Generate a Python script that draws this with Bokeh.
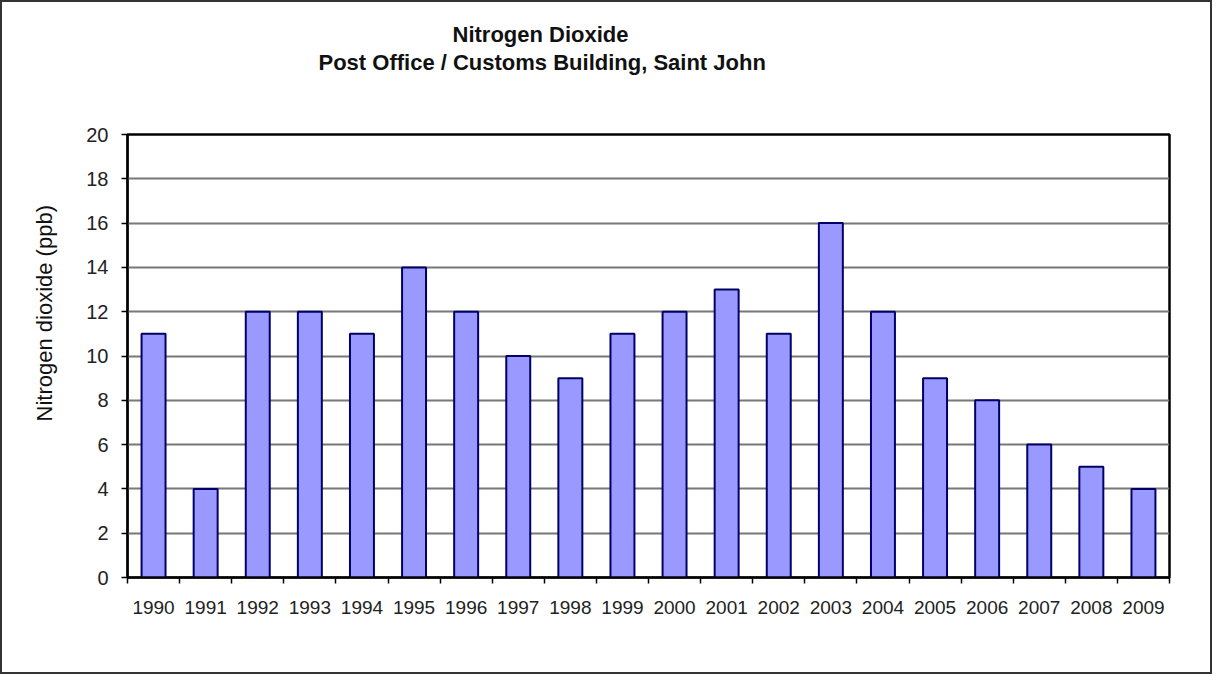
import numpy as np
from bokeh.plotting import figure
from bokeh.models import Title, FixedTicker, Range1d, ColumnDataSource
from bokeh.embed import file_html
from bokeh.resources import INLINE

years = ["1990", "1991", "1992", "1993", "1994", "1995", "1996", "1997", "1998", "1999",
         "2000", "2001", "2002", "2003", "2004", "2005", "2006", "2007", "2008", "2009"]
no2 = [11, 4, 12, 12, 11, 14, 12, 10, 9, 11, 12, 13, 11, 16, 12, 9, 8, 6, 5, 4]
y_ticks = [0, 2, 4, 6, 8, 10, 12, 14, 16, 18, 20]

title_main = "Nitrogen Dioxide"
title_sub = "Post Office / Customs Building, Saint John"
y_label = "Nitrogen dioxide (ppb)"

pos = np.arange(len(years)) + 0.5
src = ColumnDataSource(dict(x=pos, top=no2, year=years))

p = figure(width=1212, height=674, output_backend="svg", toolbar_location=None,
           x_range=Range1d(0, len(years)), y_range=Range1d(0, 20),
           min_border_left=125, min_border_right=45, min_border_top=132, min_border_bottom=99)
p.title.visible = False

p.vbar(x="x", top="top", width=0.46, bottom=0, source=src,
       fill_color="#9999FF", line_color="#000066", line_width=2)

# spacer between frame and titles
p.add_layout(Title(text=" ", text_font_size="1px", standoff=56), "above")
p.add_layout(Title(text=title_sub, align="left", offset=191, text_font="Liberation Sans",
                   text_font_size="22px", text_font_style="bold", text_color="#111111",
                   standoff=2), "above")
p.add_layout(Title(text=title_main, align="left", offset=325, text_font="Liberation Sans",
                   text_font_size="22px", text_font_style="bold", text_color="#111111",
                   standoff=0), "above")

# y label as side title
p.add_layout(Title(text=y_label, align="left", offset=156, text_font="Liberation Sans",
                   text_font_size="22px", text_font_style="normal", text_color="#111111",
                   standoff=54), "left")

# axes
p.xaxis.ticker = FixedTicker(ticks=list(pos), minor_ticks=list(range(len(years) + 1)))
p.xaxis.major_label_overrides = {float(v): y for v, y in zip(pos, years)}
p.xaxis.major_tick_line_color = None
p.xaxis.minor_tick_line_color = "black"
p.xaxis.minor_tick_line_width = 1.5
p.xaxis.minor_tick_out = 6
p.xaxis.minor_tick_in = 0
p.xaxis.axis_line_color = "black"
p.xaxis.axis_line_width = 2
p.xaxis.major_label_standoff = 17
p.xaxis.major_label_text_font = "Liberation Sans"
p.xaxis.major_label_text_font_size = "19px"
p.xaxis.major_label_text_color = "#222222"

p.yaxis.ticker = FixedTicker(ticks=y_ticks)
p.yaxis.minor_tick_line_color = None
p.yaxis.major_tick_line_color = "black"
p.yaxis.major_tick_line_width = 1.5
p.yaxis.major_tick_out = 6
p.yaxis.major_tick_in = 0
p.yaxis.axis_line_color = "black"
p.yaxis.axis_line_width = 2
p.yaxis.major_label_standoff = 13
p.yaxis.major_label_text_font = "Liberation Sans"
p.yaxis.major_label_text_font_size = "20px"
p.yaxis.major_label_text_color = "#222222"

p.xgrid.grid_line_color = None
p.ygrid.ticker = FixedTicker(ticks=y_ticks[1:-1])
p.ygrid.grid_line_color = "#777777"
p.ygrid.grid_line_width = 2

p.outline_line_color = "black"
p.outline_line_width = 2.5
p.background_fill_color = "white"
p.border_fill_color = "white"
p.styles = {"border": "2px solid #333333", "box-sizing": "border-box"}

open("out.html", "w").write(file_html(p, INLINE))
